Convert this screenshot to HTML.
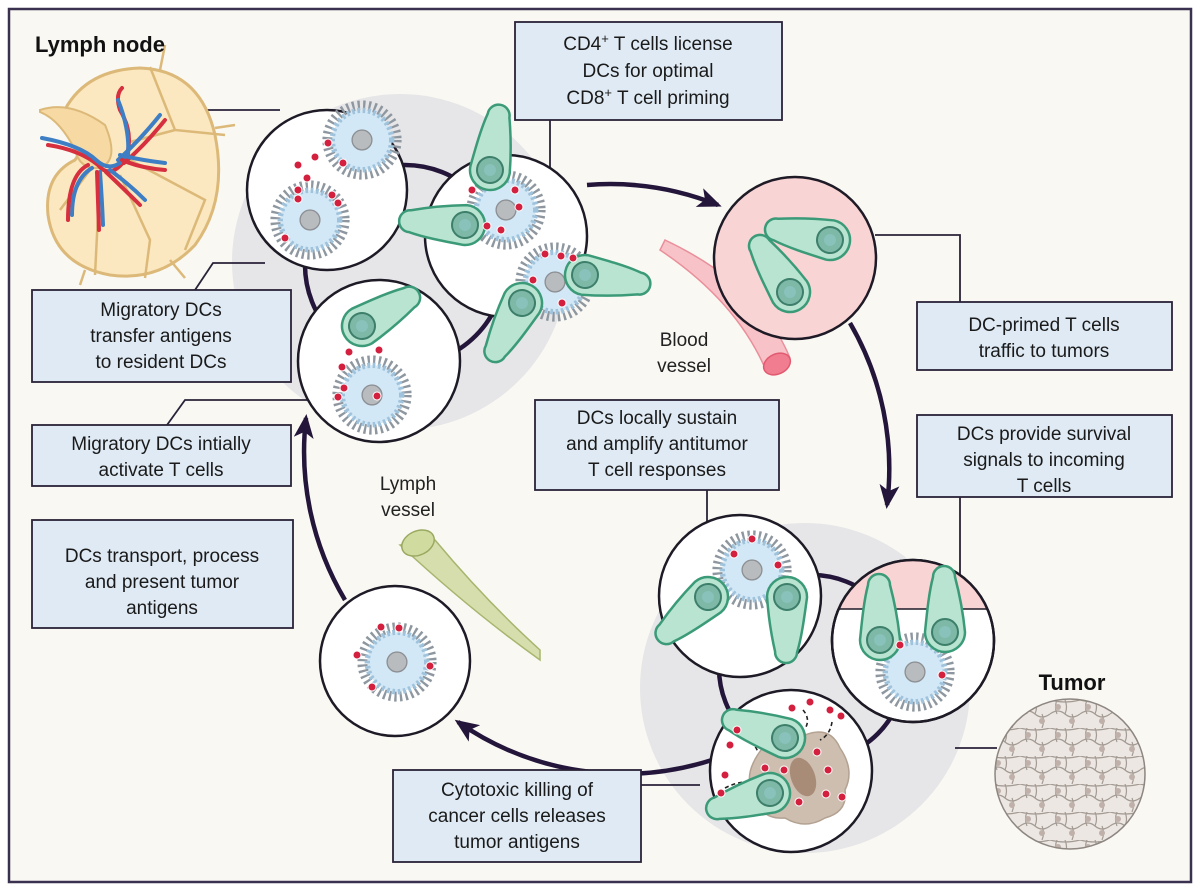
<!DOCTYPE html>
<html><head><meta charset="utf-8"><style>
html,body{margin:0;padding:0;background:#fff;}
svg{display:block;}
text{font-family:"Liberation Sans",sans-serif;}
</style></head><body>
<svg width="1200" height="891" viewBox="0 0 1200 891" xmlns="http://www.w3.org/2000/svg">
<defs>
  <marker id="ah" markerWidth="24" markerHeight="20" refX="20" refY="10" orient="auto" markerUnits="userSpaceOnUse">
    <path d="M0,0 L24,10 L0,20 L6,10 Z" fill="#24163a"/>
  </marker>
  <g id="dc">
    <circle r="38" fill="none" stroke="#8e979f" stroke-width="12" stroke-dasharray="2.5 3.5"/>
    <circle r="33" fill="#d3e8f6" stroke="#9fc3dc" stroke-width="6" stroke-dasharray="3 3"/>
    <circle r="11" fill="#b9bcbf" stroke="#8d9094" stroke-width="1.5"/>
  </g>
  <g id="tc">
    <path d="M0,-20 A20,20 0 1,1 0,20 C-20,18 -40,16 -55,12 A11,11 0 0 1 -55,-10 C-40,-14 -20,-18 0,-20 Z" fill="#b8e4d1" stroke="#3b9a78" stroke-width="2.5"/>
    <circle r="13" fill="#7db9a6" stroke="#3d7f6a" stroke-width="2"/>
    <circle r="6" fill="#8fc4c4" opacity="0.7"/>
  </g>
  <g id="rd"><circle r="4" fill="#d4203f" stroke="#fff" stroke-width="1"/></g>
  <pattern id="cells" width="30" height="28" patternUnits="userSpaceOnUse">
    <rect width="30" height="28" fill="#ece7e2"/>
    <path d="M0,0 Q15,4 30,0 M0,14 Q8,8 15,14 Q22,20 30,14 M7,0 Q4,7 7,14 M22,14 Q25,21 22,28 M15,0 Q18,7 15,14" fill="none" stroke="#a39a93" stroke-width="1.2"/>
    <circle cx="8" cy="7" r="3" fill="#bfb0aa"/>
    <circle cx="22" cy="21" r="3" fill="#bfb0aa"/>
  </pattern>
  <clipPath id="clipB"><circle cx="913" cy="641" r="80"/></clipPath>
</defs>

<rect x="0" y="0" width="1200" height="891" fill="#ffffff"/>
<rect x="9" y="9" width="1182" height="873" fill="#f9f8f3" stroke="#3a3050" stroke-width="2.5"/>

<circle cx="400" cy="262" r="168" fill="#e6e6e8"/>
<circle cx="805" cy="688" r="165" fill="#e6e6e8"/>

<g stroke="#2a2238" stroke-width="1.8" fill="none">
  <polyline points="200,110 280,110"/>
  <polyline points="195,290 213,263 265,263"/>
  <polyline points="167,425 185,400 310,400"/>
  <polyline points="550,120 550,175"/>
  <polyline points="875,235 960,235 960,302"/>
  <polyline points="960,497 960,578"/>
  <polyline points="707,490 707,525"/>
  <polyline points="641,785 700,785"/>
  <polyline points="955,748 997,748"/>
</g>

<path d="M660,250 Q735,300 765,368 L790,358 Q760,285 665,240 Z" fill="#f7c1c6" stroke="#e98a96" stroke-width="1.5" opacity="0.95"/>
<ellipse cx="777" cy="364" rx="14" ry="10" transform="rotate(-25 777 364)" fill="#f07e90" stroke="#e25a70" stroke-width="1.5"/>
<path d="M400,545 Q470,610 540,660 L540,650 Q485,600 435,540 Z" fill="#d5deac" stroke="#a7b56e" stroke-width="1.5"/>
<ellipse cx="418" cy="543" rx="17" ry="12" transform="rotate(-25 418 543)" fill="#d0dba0" stroke="#9aa960" stroke-width="1.5"/>

<g stroke="#24163a" stroke-width="4.5" fill="none">
  <path d="M587,185 A290,290 0 0 1 718,205" marker-end="url(#ah)"/>
  <path d="M850,323 A290,290 0 0 1 887,505" marker-end="url(#ah)"/>
  <path d="M712,760 A290,290 0 0 1 458,722" marker-end="url(#ah)"/>
  <path d="M345,600 A290,290 0 0 1 306,418" marker-end="url(#ah)"/>
  <circle cx="405" cy="265" r="100"/>
  <circle cx="812" cy="668" r="93"/>
</g>

<g stroke="#1e1a26" stroke-width="2.5">
  <circle cx="327" cy="190" r="80" fill="#fff"/>
  <circle cx="506" cy="236" r="81" fill="#fff"/>
  <circle cx="379" cy="361" r="81" fill="#fff"/>
  <circle cx="795" cy="258" r="81" fill="#f9d4d4"/>
  <circle cx="740" cy="596" r="81" fill="#fff"/>
  <circle cx="913" cy="641" r="81" fill="#fff"/>
  <circle cx="791" cy="771" r="81" fill="#fff"/>
  <circle cx="395" cy="661" r="75" fill="#fff"/>
</g>
<rect x="830" y="555" width="170" height="54" fill="#f9d4d4" clip-path="url(#clipB)"/>
<line x1="833" y1="609" x2="993" y2="609" stroke="#1e1a26" stroke-width="1.5" clip-path="url(#clipB)"/>
<circle cx="913" cy="641" r="81" fill="none" stroke="#1e1a26" stroke-width="2.5"/>

<use href="#dc" transform="translate(362,140) scale(0.9)"/>
<use href="#dc" transform="translate(310,220) scale(0.9)"/>
<use href="#rd" x="328" y="143"/><use href="#rd" x="315" y="157"/><use href="#rd" x="343" y="163"/>
<use href="#rd" x="298" y="165"/><use href="#rd" x="307" y="178"/><use href="#rd" x="298" y="190"/>
<use href="#rd" x="298" y="199"/><use href="#rd" x="332" y="195"/><use href="#rd" x="338" y="203"/><use href="#rd" x="285" y="238"/>
<use href="#dc" transform="translate(506,210) scale(0.9)"/>
<use href="#dc" transform="translate(555,282) scale(0.9)"/>
<use href="#tc" transform="translate(490,170) rotate(100)"/>
<use href="#tc" transform="translate(465,225) rotate(5)"/>
<use href="#tc" transform="translate(585,275) rotate(190)"/>
<use href="#tc" transform="translate(522,303) rotate(-60)"/>
<use href="#rd" x="472" y="190"/><use href="#rd" x="515" y="190"/><use href="#rd" x="519" y="207"/>
<use href="#rd" x="487" y="226"/><use href="#rd" x="501" y="230"/><use href="#rd" x="545" y="254"/>
<use href="#rd" x="561" y="256"/><use href="#rd" x="573" y="258"/><use href="#rd" x="533" y="280"/><use href="#rd" x="562" y="303"/>
<use href="#dc" transform="translate(372,395) scale(0.9)"/>
<use href="#tc" transform="translate(362,326) rotate(150)"/>
<use href="#rd" x="349" y="352"/><use href="#rd" x="379" y="350"/><use href="#rd" x="342" y="367"/>
<use href="#rd" x="344" y="388"/><use href="#rd" x="338" y="397"/><use href="#rd" x="377" y="396"/>
<use href="#tc" transform="translate(830,240) rotate(12)"/>
<use href="#tc" transform="translate(790,292) rotate(58)"/>
<use href="#dc" transform="translate(752,570) scale(0.9)"/>
<use href="#tc" transform="translate(708,597) rotate(-40)"/>
<use href="#tc" transform="translate(787,597) rotate(-88)"/>
<use href="#rd" x="752" y="539"/><use href="#rd" x="734" y="554"/><use href="#rd" x="778" y="565"/>
<use href="#dc" transform="translate(915,672) scale(0.9)"/>
<use href="#tc" transform="translate(880,640) rotate(90)"/>
<use href="#tc" transform="translate(945,632) rotate(90)"/>
<use href="#rd" x="900" y="645"/><use href="#rd" x="942" y="675"/>
<path d="M765,745 Q780,725 805,735 Q830,725 840,748 Q855,770 845,790 Q848,812 825,818 Q805,830 785,818 Q760,820 755,795 Q740,775 765,745 Z" fill="#cdbeb0" stroke="#b3a292" stroke-width="1.5"/>
<ellipse cx="803" cy="777" rx="12" ry="20" transform="rotate(-20 803 777)" fill="#a98c78"/>
<g stroke="#222" stroke-width="1.6" stroke-dasharray="4 3" fill="none">
  <path d="M740,733 Q752,738 758,752"/><path d="M725,788 Q740,780 757,782"/>
  <path d="M803,710 Q810,718 806,727"/><path d="M832,722 Q830,735 820,740"/>
</g>
<use href="#tc" transform="translate(785,738) rotate(20)"/>
<use href="#tc" transform="translate(770,793) rotate(-15)"/>
<use href="#rd" x="737" y="730"/><use href="#rd" x="730" y="745"/><use href="#rd" x="725" y="775"/><use href="#rd" x="721" y="793"/>
<use href="#rd" x="792" y="708"/><use href="#rd" x="810" y="702"/><use href="#rd" x="830" y="710"/><use href="#rd" x="841" y="716"/>
<use href="#rd" x="817" y="752"/><use href="#rd" x="765" y="768"/><use href="#rd" x="784" y="770"/><use href="#rd" x="828" y="770"/>
<use href="#rd" x="799" y="802"/><use href="#rd" x="826" y="794"/><use href="#rd" x="842" y="797"/>
<use href="#dc" transform="translate(397,662) scale(0.9)"/>
<use href="#rd" x="381" y="627"/><use href="#rd" x="399" y="628"/><use href="#rd" x="357" y="655"/><use href="#rd" x="430" y="666"/><use href="#rd" x="372" y="687"/>

<circle cx="1070" cy="774" r="75" fill="url(#cells)" stroke="#8e8680" stroke-width="1.5"/>

<g>
  <path d="M60,120 Q80,70 140,68 Q200,70 215,135 Q228,200 195,245 Q160,282 110,275 Q55,265 48,215 Q44,175 75,160 Q90,140 60,120 Z" fill="#fbe8c0" stroke="#dcb978" stroke-width="3"/>
  <path d="M40,110 Q70,100 105,125 Q120,160 100,168 Q80,170 75,150 Q60,120 40,112 Z" fill="#f6d9a3" stroke="#dcb978" stroke-width="2"/>
  <g stroke="#dcb978" stroke-width="2.5" fill="none">
    <path d="M150,67 L175,130 L225,135"/><path d="M175,130 L130,142"/>
    <path d="M130,160 L205,200 L185,250"/><path d="M120,175 L150,240 L145,278"/>
    <path d="M100,175 L95,275"/><path d="M90,170 L60,210"/>
    <path d="M165,45 L160,70"/><path d="M215,128 L235,125"/><path d="M170,260 L185,278"/><path d="M85,270 L80,285"/>
  </g>
  <g fill="none" stroke-width="4" stroke-linecap="round">
    <path d="M48,145 Q80,150 98,165 Q110,180 125,160 Q135,135 120,110 Q115,95 122,88" stroke="#d6303f"/>
    <path d="M42,138 Q80,145 96,160 Q112,175 128,155 Q130,130 118,100" stroke="#3e7ec4"/>
    <path d="M118,160 Q140,140 160,115" stroke="#3e7ec4"/><path d="M124,163 Q145,145 165,120" stroke="#d6303f"/>
    <path d="M120,155 Q140,160 165,163" stroke="#3e7ec4"/><path d="M122,160 Q140,168 165,170" stroke="#d6303f"/>
    <path d="M110,170 Q130,185 145,200" stroke="#3e7ec4"/><path d="M106,172 Q125,190 140,205" stroke="#d6303f"/>
    <path d="M100,172 Q102,200 103,225" stroke="#3e7ec4"/><path d="M97,172 Q98,200 99,230" stroke="#d6303f"/>
    <path d="M92,168 Q72,180 72,215" stroke="#3e7ec4"/><path d="M88,165 Q68,175 68,220" stroke="#d6303f"/>
  </g>
</g>

<text x="35" y="52" font-size="22" font-weight="bold" fill="#111">Lymph node</text>
<text x="1072" y="690" font-size="22" font-weight="bold" fill="#111" text-anchor="middle">Tumor</text>
<g font-size="19" fill="#222" text-anchor="middle">
  <text x="684" y="346">Blood</text><text x="684" y="372">vessel</text>
  <text x="408" y="490">Lymph</text><text x="408" y="516">vessel</text>
</g>

<g fill="#dfeaf4" stroke="#2a2238" stroke-width="1.8">
  <rect x="515" y="22" width="267" height="98"/>
  <rect x="917" y="302" width="255" height="68"/>
  <rect x="32" y="290" width="259" height="92"/>
  <rect x="32" y="425" width="259" height="61"/>
  <rect x="32" y="520" width="261" height="108"/>
  <rect x="535" y="400" width="244" height="90"/>
  <rect x="917" y="415" width="255" height="82"/>
  <rect x="393" y="770" width="248" height="92"/>
</g>
<g font-size="19" fill="#1a1a1a" text-anchor="middle">
  <text x="648" y="50">CD4<tspan font-size="13" dy="-7">+</tspan><tspan dy="7"> T cells license</tspan></text>
  <text x="648" y="77">DCs for optimal</text>
  <text x="648" y="104">CD8<tspan font-size="13" dy="-7">+</tspan><tspan dy="7"> T cell priming</tspan></text>
  <text x="1044" y="331">DC-primed T cells</text><text x="1044" y="357">traffic to tumors</text>
  <text x="161" y="316">Migratory DCs</text><text x="161" y="342">transfer antigens</text><text x="161" y="368">to resident DCs</text>
  <text x="161" y="450">Migratory DCs intially</text><text x="161" y="476">activate T cells</text>
  <text x="162" y="562">DCs transport, process</text><text x="162" y="588">and present tumor</text><text x="162" y="614">antigens</text>
  <text x="657" y="424">DCs locally sustain</text><text x="657" y="450">and amplify antitumor</text><text x="657" y="476">T cell responses</text>
  <text x="1044" y="440">DCs provide survival</text><text x="1044" y="466">signals to incoming</text><text x="1044" y="492">T cells</text>
  <text x="517" y="796">Cytotoxic killing of</text><text x="517" y="822">cancer cells releases</text><text x="517" y="848">tumor antigens</text>
</g>
</svg>
</body></html>
